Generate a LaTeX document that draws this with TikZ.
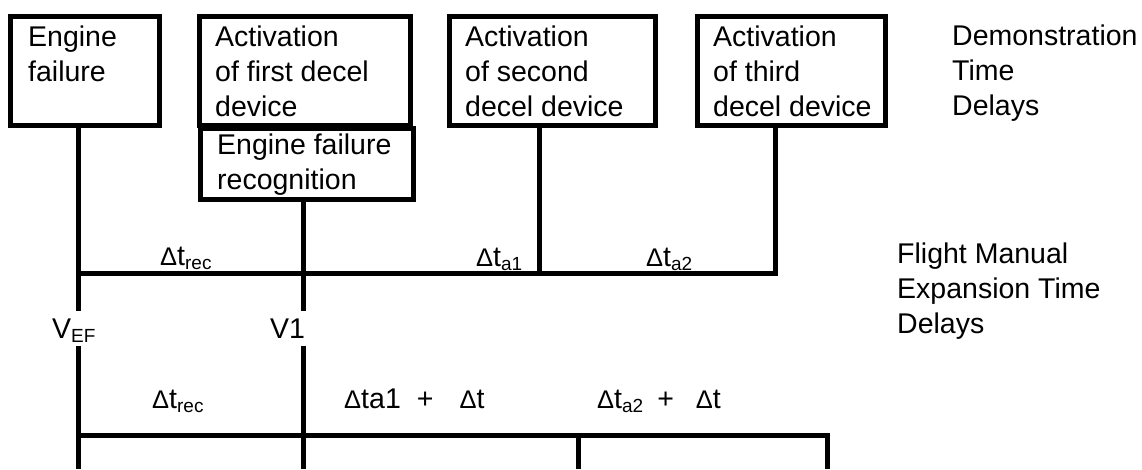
\documentclass[tikz,border=0pt]{standalone}
\usepackage{fontspec}
\setmainfont{Liberation Sans}
\newcommand{\ml}[1]{\begin{tabular}[t]{@{}l@{}}#1\end{tabular}}
\newcommand{\Dl}{{\fontsize{25.5}{25.5}\selectfont Δ}}
\newcommand{\sbx}[1]{\raisebox{-4.5pt}{\fontsize{19}{19}\selectfont #1}}
\tikzset{
  box/.style={draw, line width=5pt, rectangle, inner sep=0pt},
  conn/.style={line width=5pt},
  txt/.style={inner sep=0pt, anchor=base west, font=\fontsize{28.5}{35}\selectfont},
}
\begin{document}
\begin{tikzpicture}[x=1pt,y=-1pt]
\useasboundingbox (0,0) rectangle (1142,469);
% boxes
\node[box, minimum width=149pt, minimum height=109pt] (bEF) at (85,70.5) {};
\node[box, minimum width=211.6pt, minimum height=109pt] (bA1) at (305,70.5) {};
\node[box, minimum width=213.3pt, minimum height=71.3pt] (bRec) at (306.8,164) {};
\node[box, minimum width=206.6pt, minimum height=109pt] (bA2) at (552.5,70.5) {};
\node[box, minimum width=188.3pt, minimum height=109pt] (bA3) at (791.7,70.5) {};
% box texts
\node[txt] (tEF) at (28,46) {\ml{Engine\\failure}};
\node[txt] (tA1) at (215,46) {\ml{Activation\\of first decel\\device}};
\node[txt] (tRec) at (217,154) {\ml{Engine failure\\recognition}};
\node[txt] (tA2) at (465,46) {\ml{Activation\\of second\\decel device}};
\node[txt] (tA3) at (713,46) {\ml{Activation\\of third\\decel device}};
\node[txt] (tDemo) at (952,45) {\ml{Demonstration\\Time\\Delays}};
\node[txt] (tFM) at (897,263) {\ml{Flight Manual\\Expansion Time\\Delays}};
% coordinates
\coordinate (a1) at (78,311);
\coordinate (a2) at (78,346);
\coordinate (a3) at (78,469);
\coordinate (b1) at (303.5,311);
\coordinate (b2) at (303.5,346);
\coordinate (b3) at (303.5,469);
\coordinate (hU) at (775.5,273.5);
\coordinate (c1) at (539.5,273.5);
\coordinate (hL) at (827.5,435.5);
\coordinate (hLb) at (827.5,469);
\coordinate (m1) at (578.5,435.5);
\coordinate (m2) at (578.5,469);
% connectors
\draw[conn] (bEF.south -| a1) -- (a1);
\draw[conn] (bRec.south -| b1) -- (b1);
\draw[conn] (a1 |- hU) -- (hU) -- (bA3.south -| hU);
\draw[conn] (bA2.south -| c1) -- (c1);
\draw[conn] (a2) -- (a3);
\draw[conn] (b2) -- (b3);
\draw[conn] (a3 |- hL) -- (hL) -- (hLb);
\draw[conn] (m1) -- (m2);
% labels
\node[txt] (lrec1) at (160,265) {\Dl t\sbx{rec}};
\node[txt] (la1) at (476,266) {\Dl t\sbx{a1}};
\node[txt] (la2) at (646,266) {\Dl t\sbx{a2}};
\node[txt] (lvef) at (52,338) {V\sbx{EF}};
\node[txt] (lv1) at (270,338) {V1};
\node[txt] (lrec2) at (152,408) {\Dl t\sbx{rec}};
\node[txt] (lsum1) at (344,408) {\Dl ta1\hspace{16pt}+\hspace{26pt}\Dl t};
\node[txt] (lsum2) at (597,408) {\Dl t\sbx{a2}\hspace{14pt}+\hspace{22pt}\Dl t};
\end{tikzpicture}
\end{document}
